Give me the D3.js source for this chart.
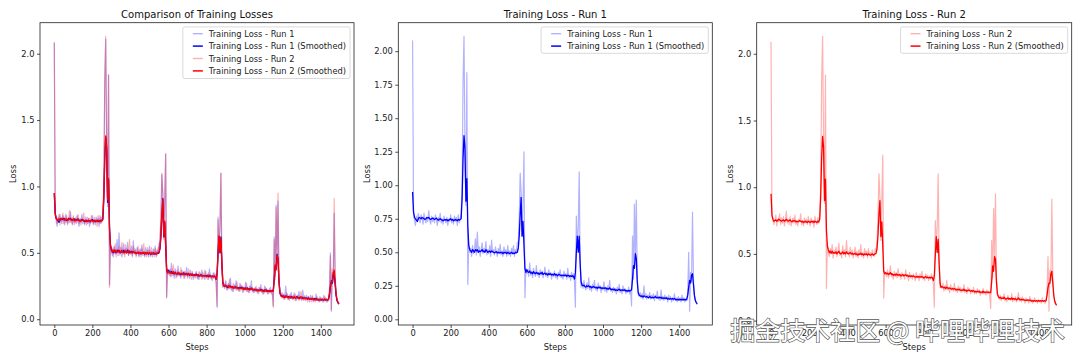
<!DOCTYPE html>
<html><head><meta charset="utf-8">
<script src="https://cdn.jsdelivr.net/npm/d3@7"></script>
<style>
body{margin:0;background:#fff}
svg text{font-family:"DejaVu Sans",sans-serif}
</style>
</head><body>
<svg id="chart" width="1080" height="360"></svg>
<script>
// ---- data (one value every STEP training steps) ----
const STEP = 5;
const run1Raw = [
2.08,0.80,0.74,0.70,0.77,0.73,0.79,0.74,0.72,0.78, 0.75,0.71,0.79,0.74,0.72,0.76,0.73,0.81,0.74,0.71, 0.77,0.73,0.76,0.72,0.78,0.74,0.70,0.76,0.73,0.79, 0.72,0.75,0.71,0.77,0.74,0.72,0.76,0.70,0.75,0.73, 0.78,0.72,0.75,0.71,0.77,0.73,0.76,0.70,0.78,0.72, 0.75,0.79,
0.95,1.78,2.11,1.30,0.85,1.84,0.26,0.56,
0.50,0.53,0.47,0.55,0.49,0.52,0.60,0.48,0.65,0.50, 0.54,0.47,0.52,0.57,0.49,0.53,0.50,0.58,0.48,0.52, 0.49,0.55,0.47,0.59,0.50,0.52,0.48,0.54,0.50,0.47, 0.53,0.49,0.56,0.48,0.51,0.47,0.54,0.49,0.52,0.47, 0.55,0.48,0.51,0.47,0.53,0.49,0.55,0.47,0.52,0.50, 0.57,0.58,
0.75,1.09,0.95,0.62,0.88,1.25,0.16,0.38,
0.34,0.37,0.32,0.42,0.33,0.36,0.31,0.38,0.34,0.32, 0.40,0.33,0.35,0.31,0.37,0.33,0.36,0.31,0.34,0.39, 0.32,0.35,0.31,0.37,0.33,0.35,0.30,0.34,0.32,0.36, 0.31,0.34,0.30,0.35,0.32,0.37,0.31,0.33,0.30,0.36, 0.32,0.34,0.30,0.38,0.31,0.33,0.29,0.35,0.31,0.34,
0.28,0.09,0.77,0.55,0.68,1.10,0.42,0.24,
0.27,0.23,0.29,0.24,0.22,0.27,0.23,0.31,0.22,0.25, 0.21,0.26,0.23,0.29,0.22,0.24,0.21,0.27,0.23,0.25, 0.20,0.24,0.22,0.28,0.21,0.24,0.20,0.25,0.22,0.29, 0.21,0.23,0.20,0.24,0.21,0.23,0.19,0.24,0.21,0.26, 0.20,0.22,0.19,0.25,0.21,0.23,0.19,0.22,0.20,0.24, 0.19,0.22,
0.10,0.62,0.30,0.86,0.45,0.89,0.30,0.19,
0.17,0.20,0.16,0.19,0.15,0.25,0.17,0.19,0.15,0.18, 0.16,0.20,0.15,0.18,0.16,0.19,0.14,0.18,0.16,0.21, 0.15,0.17,0.14,0.22,0.15,0.17,0.14,0.18,0.15,0.17, 0.13,0.18,0.15,0.17,0.13,0.16,0.14,0.19,0.14,0.16, 0.13,0.17,0.14,0.16,0.13,0.18,0.14,0.16,0.13,0.15, 0.14,0.20,
0.50,0.06,0.35,0.28,0.80,0.30,0.18,0.14,0.12,0.11];

const run2Raw = [
2.09,0.78,0.76,0.72,0.75,0.79,0.71,0.76,0.74,0.80, 0.72,0.77,0.73,0.78,0.71,0.75,0.82,0.73,0.76,0.72, 0.78,0.71,0.74,0.77,0.73,0.79,0.72,0.75,0.71,0.76, 0.74,0.80,0.72,0.75,0.71,0.77,0.73,0.76,0.72,0.78, 0.74,0.71,0.77,0.73,0.75,0.70,0.78,0.74,0.72,0.77, 0.73,0.80,
1.00,1.80,2.13,1.35,0.88,1.84,0.24,0.58,
0.51,0.48,0.54,0.50,0.57,0.47,0.53,0.50,0.55,0.48, 0.52,0.58,0.49,0.51,0.47,0.56,0.50,0.53,0.48,0.60, 0.50,0.52,0.48,0.55,0.49,0.53,0.47,0.51,0.55,0.48, 0.52,0.47,0.53,0.50,0.57,0.48,0.51,0.47,0.54,0.49, 0.52,0.47,0.54,0.49,0.51,0.47,0.53,0.50,0.48,0.54, 0.52,0.60,
0.78,1.10,0.93,0.60,0.90,1.24,0.17,0.37,
0.35,0.33,0.38,0.32,0.36,0.41,0.33,0.35,0.31,0.37, 0.33,0.36,0.32,0.39,0.33,0.35,0.31,0.36,0.33,0.35, 0.31,0.38,0.33,0.34,0.30,0.36,0.32,0.34,0.31,0.35, 0.33,0.30,0.36,0.32,0.34,0.30,0.35,0.32,0.37,0.31, 0.33,0.30,0.35,0.32,0.34,0.30,0.33,0.31,0.35,0.32,
0.27,0.10,0.75,0.58,0.70,1.10,0.44,0.25,
0.26,0.24,0.28,0.22,0.26,0.23,0.30,0.23,0.25,0.21, 0.27,0.23,0.25,0.22,0.28,0.22,0.24,0.21,0.26,0.22, 0.25,0.21,0.24,0.22,0.27,0.21,0.23,0.20,0.25,0.22, 0.24,0.20,0.23,0.21,0.25,0.20,0.22,0.20,0.24,0.21, 0.23,0.19,0.22,0.20,0.24,0.20,0.22,0.19,0.23,0.20, 0.22,0.19,
0.09,0.60,0.32,0.84,0.48,0.95,0.32,0.20,
0.18,0.16,0.19,0.15,0.18,0.16,0.20,0.15,0.17,0.14, 0.19,0.16,0.17,0.15,0.20,0.14,0.17,0.15,0.18,0.14, 0.16,0.21,0.15,0.17,0.14,0.18,0.15,0.16,0.13,0.17, 0.15,0.16,0.13,0.18,0.14,0.16,0.13,0.15,0.17,0.14, 0.15,0.13,0.16,0.14,0.15,0.13,0.17,0.14,0.15,0.13, 0.16,0.22,
0.48,0.07,0.38,0.30,0.91,0.33,0.19,0.15,0.13,0.12];

const run1Smooth = [
0.95,0.80,0.76,0.75,0.74,0.73,0.75,0.76,0.755,0.75, 0.76,0.755,0.75,0.745,0.75,0.76,0.755,0.76,0.75,0.745, 0.75,0.755,0.75,0.745,0.75,0.755,0.745,0.74,0.745,0.75, 0.745,0.74,0.735,0.74,0.745,0.74,0.745,0.735,0.74,0.745, 0.75,0.74,0.745,0.735,0.74,0.745,0.74,0.735,0.745,0.74, 0.745,0.75,
0.90,1.20,1.37,1.28,0.88,1.05,0.70,0.55,
0.52,0.51,0.50,0.52,0.51,0.50,0.52,0.51,0.52,0.50, 0.51,0.505,0.51,0.52,0.505,0.51,0.50,0.52,0.51,0.50, 0.505,0.51,0.50,0.51,0.505,0.50,0.495,0.50,0.505,0.495, 0.50,0.495,0.50,0.495,0.50,0.49,0.50,0.495,0.50,0.49, 0.50,0.495,0.49,0.495,0.50,0.49,0.495,0.49,0.50,0.495, 0.50,0.53,
0.62,0.78,0.91,0.62,0.73,0.55,0.38,0.35,
0.37,0.355,0.35,0.36,0.345,0.35,0.34,0.355,0.345,0.34, 0.35,0.34,0.345,0.335,0.345,0.34,0.35,0.335,0.34,0.345, 0.335,0.34,0.33,0.34,0.335,0.34,0.33,0.335,0.33,0.34, 0.33,0.335,0.325,0.33,0.335,0.33,0.325,0.33,0.325,0.33, 0.325,0.33,0.32,0.33,0.325,0.32,0.325,0.32,0.325,0.32,
0.30,0.35,0.50,0.62,0.50,0.62,0.42,0.28,
0.255,0.25,0.255,0.245,0.24,0.25,0.245,0.25,0.24,0.245, 0.235,0.24,0.245,0.24,0.235,0.24,0.23,0.24,0.235,0.24, 0.23,0.235,0.23,0.235,0.23,0.235,0.225,0.23,0.225,0.235, 0.225,0.22,0.225,0.22,0.225,0.215,0.22,0.215,0.22,0.225, 0.215,0.22,0.215,0.22,0.215,0.22,0.21,0.215,0.21,0.215, 0.21,0.215,
0.22,0.30,0.40,0.38,0.49,0.45,0.28,0.20,
0.18,0.175,0.17,0.175,0.165,0.175,0.17,0.165,0.17,0.165, 0.16,0.17,0.165,0.16,0.165,0.16,0.165,0.17,0.16,0.165, 0.16,0.165,0.16,0.165,0.155,0.16,0.155,0.16,0.155,0.16, 0.15,0.155,0.15,0.155,0.15,0.155,0.15,0.155,0.15,0.145, 0.15,0.145,0.15,0.145,0.15,0.145,0.15,0.145,0.15,0.145, 0.15,0.18,
0.24,0.29,0.27,0.33,0.34,0.26,0.18,0.14,0.125,0.115];

const run2Smooth = [
0.95,0.79,0.76,0.745,0.75,0.755,0.745,0.75,0.76,0.755, 0.75,0.745,0.75,0.755,0.745,0.75,0.76,0.75,0.745,0.75, 0.755,0.745,0.74,0.75,0.745,0.75,0.74,0.745,0.74,0.745, 0.75,0.745,0.74,0.745,0.735,0.74,0.745,0.74,0.735,0.745, 0.74,0.735,0.745,0.74,0.745,0.735,0.745,0.74,0.735,0.745, 0.74,0.76,
0.93,1.22,1.38,1.30,0.90,1.06,0.68,0.56,
0.53,0.51,0.52,0.505,0.52,0.505,0.51,0.505,0.515,0.50, 0.51,0.52,0.505,0.50,0.505,0.515,0.50,0.51,0.50,0.515, 0.505,0.50,0.505,0.51,0.50,0.505,0.495,0.50,0.505,0.495, 0.50,0.49,0.50,0.495,0.505,0.495,0.50,0.49,0.50,0.495, 0.50,0.49,0.50,0.495,0.49,0.495,0.50,0.49,0.495,0.50, 0.505,0.54,
0.64,0.80,0.90,0.63,0.74,0.56,0.37,0.35,
0.36,0.35,0.355,0.345,0.35,0.36,0.345,0.35,0.34,0.345, 0.34,0.35,0.34,0.345,0.34,0.345,0.335,0.34,0.345,0.335, 0.34,0.345,0.335,0.34,0.33,0.335,0.33,0.335,0.33,0.335, 0.33,0.325,0.33,0.325,0.33,0.325,0.33,0.325,0.33,0.325, 0.32,0.325,0.33,0.32,0.325,0.32,0.325,0.32,0.325,0.32,
0.30,0.34,0.49,0.63,0.51,0.61,0.43,0.28,
0.25,0.255,0.25,0.245,0.25,0.24,0.25,0.245,0.24,0.245, 0.24,0.235,0.24,0.235,0.24,0.235,0.23,0.235,0.23,0.235, 0.23,0.225,0.23,0.225,0.235,0.225,0.23,0.22,0.225,0.23, 0.225,0.22,0.225,0.22,0.225,0.215,0.22,0.215,0.22,0.215, 0.22,0.21,0.215,0.21,0.22,0.21,0.215,0.21,0.215,0.21, 0.215,0.21,
0.21,0.29,0.41,0.37,0.48,0.46,0.29,0.20,
0.18,0.17,0.175,0.165,0.17,0.165,0.175,0.165,0.16,0.165, 0.17,0.16,0.165,0.16,0.17,0.16,0.165,0.16,0.165,0.155, 0.16,0.17,0.16,0.155,0.16,0.155,0.16,0.155,0.15,0.155, 0.15,0.155,0.15,0.155,0.15,0.145,0.15,0.145,0.15,0.145, 0.15,0.145,0.15,0.145,0.15,0.145,0.15,0.145,0.15,0.145, 0.15,0.19,
0.25,0.28,0.28,0.35,0.37,0.28,0.19,0.145,0.125,0.115];

const xTicks = [0, 200, 400, 600, 800, 1000, 1200, 1400];
const yTicksHalf = [0, 0.5, 1.0, 1.5, 2.0];
const yTicksQuarter = [0, 0.25, 0.5, 0.75, 1.0, 1.25, 1.5, 1.75, 2.0];
const titles = ["Comparison of Training Losses", "Training Loss - Run 1", "Training Loss - Run 2"];
const labels = ["Training Loss - Run 1", "Training Loss - Run 1 (Smoothed)", "Training Loss - Run 2", "Training Loss - Run 2 (Smoothed)"];
const watermark = "掘金技术社区 @ 哔哩哔哩技术";

// ---- drawing ----
const svg = d3.select("#chart");
const toPts = arr => arr.map((v, i) => ({s: i * STEP, v}));

const styles = {
  raw1: {color: "#0000ff", width: 1.2, opacity: 0.3},
  sm1:  {color: "#0000ff", width: 1.3, opacity: 1},
  raw2: {color: "#ff0000", width: 1.2, opacity: 0.3},
  sm2:  {color: "#ff0000", width: 1.3, opacity: 1}
};
const S1 = [{d: run1Raw, st: styles.raw1, label: labels[0]}, {d: run1Smooth, st: styles.sm1, label: labels[1]}];
const S2 = [{d: run2Raw, st: styles.raw2, label: labels[2]}, {d: run2Smooth, st: styles.sm2, label: labels[3]}];

const panels = [
  {title: titles[0], left: 40, right: 354, series: S1.concat(S2), yTicks: yTicksHalf, fmt: d3.format(".1f"), ylab: 13.3},
  {title: titles[1], left: 398.3, right: 712.3, series: S1, yTicks: yTicksQuarter, fmt: d3.format(".2f"), ylab: 366.7},
  {title: titles[2], left: 756.7, right: 1071.7, series: S2, yTicks: yTicksHalf, fmt: d3.format(".1f"), ylab: 730}
];
const TOP = 22.7, BOTTOM = 325;
const FS = 8.3;

panels.forEach(p => {
  const g = svg.append("g");
  const x = d3.scaleLinear().domain([-75, 1574]).range([p.left, p.right]);
  const all = p.series.flatMap(s => s.d);
  const lo = d3.min(all), hi = d3.max(all), pad = (hi - lo) * 0.05;
  const y = d3.scaleLinear().domain([lo - pad, hi + pad]).range([BOTTOM, TOP]);

  const line = d3.line().x(d => x(d.s)).y(d => y(d.v));
  p.series.forEach(s => {
    g.append("path").datum(toPts(s.d)).attr("d", line)
      .attr("fill", "none").attr("stroke", s.st.color)
      .attr("stroke-opacity", s.st.opacity).attr("stroke-width", s.st.width)
      .attr("stroke-linejoin", "round");
  });

  // frame
  g.append("rect").attr("x", p.left).attr("y", TOP).attr("width", p.right - p.left).attr("height", BOTTOM - TOP)
    .attr("fill", "none").attr("stroke", "#222").attr("stroke-width", 0.8);

  const xa = g.append("g").attr("transform", `translate(0,${BOTTOM})`)
    .call(d3.axisBottom(x).tickValues(xTicks).tickSize(3).tickPadding(2.5).tickFormat(d3.format("d")));
  const ya = g.append("g").attr("transform", `translate(${p.left},0)`)
    .call(d3.axisLeft(y).tickValues(p.yTicks).tickSize(3).tickPadding(2.5).tickFormat(p.fmt));
  [xa, ya].forEach(a => {
    a.select(".domain").remove();
    a.selectAll("line").attr("stroke", "#222").attr("stroke-width", 0.8);
    a.selectAll("text").attr("fill", "#222").style("font-size", FS + "px").style("font-family", '"DejaVu Sans",sans-serif');
  });

  // title & axis labels
  g.append("text").attr("x", (p.left + p.right) / 2).attr("y", 17.5).attr("text-anchor", "middle")
    .style("font-size", "10px").attr("fill", "#111").text(p.title);
  g.append("text").attr("x", (p.left + p.right) / 2).attr("y", 349.5).attr("text-anchor", "middle")
    .style("font-size", FS + "px").attr("fill", "#222").text("Steps");
  g.append("text").attr("transform", `translate(${p.ylab},${(TOP + BOTTOM) / 2}) rotate(-90)`)
    .attr("text-anchor", "middle").attr("dominant-baseline", "central")
    .style("font-size", FS + "px").attr("fill", "#222").text("Loss");

  // legend
  const lg = g.append("g");
  const box = lg.append("rect").attr("fill", "#fff").attr("fill-opacity", 0.8)
    .attr("stroke", "#d0d0d0").attr("stroke-width", 0.8).attr("rx", 2);
  let maxW = 0;
  p.series.forEach((s, i) => {
    const yy = TOP + 11 + i * 12.4;
    lg.append("line").attr("class", "h").attr("y1", yy).attr("y2", yy)
      .attr("stroke", s.st.color).attr("stroke-opacity", s.st.opacity)
      .attr("stroke-width", s.st.width + 0.2);
    const t = lg.append("text").attr("y", yy).attr("dominant-baseline", "central")
      .style("font-size", FS + "px").attr("fill", "#222").text(s.label);
    maxW = Math.max(maxW, t.node().getComputedTextLength());
  });
  const bw = maxW + 30, bx = p.right - 4 - bw;
  box.attr("x", bx).attr("y", TOP + 4.2).attr("width", bw).attr("height", p.series.length * 12.6 + 1.2);
  lg.selectAll("line.h").attr("x1", bx + 10).attr("x2", bx + 20);
  lg.selectAll("text").attr("x", bx + 26);
});

// watermark
svg.append("text").attr("x", 1065).attr("y", 340).attr("text-anchor", "end")
  .style("font-family", '"Noto Sans CJK SC",sans-serif').style("font-size", "25px")
  .attr("fill", "#fff").attr("stroke", "#555").attr("stroke-width", 1.3)
  .style("paint-order", "stroke").text(watermark);
</script>
</body></html>
